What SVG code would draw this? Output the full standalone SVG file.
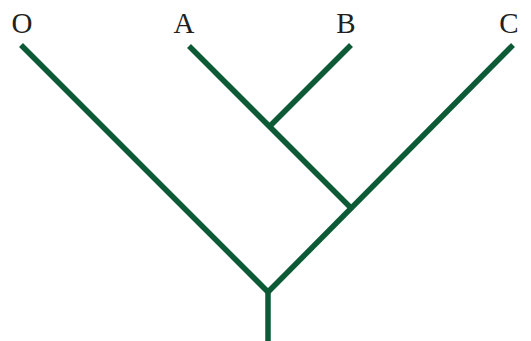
<svg xmlns="http://www.w3.org/2000/svg" width="531" height="341" viewBox="0 0 531 341">
<style>
.br{stroke:#0d5a37;stroke-width:5.5;fill:none;stroke-linecap:butt}
.lb{font-family:"Liberation Serif",serif;font-size:29px;fill:#231f20;text-anchor:middle}
</style>
<rect width="531" height="341" fill="#fff"/>
<g id="connectors">
<line class="br" x1="21" y1="45" x2="268" y2="292"/>
<line class="br" x1="513" y1="45" x2="268" y2="292"/>
<line class="br" x1="189" y1="46" x2="351.5" y2="208.5"/>
<line class="br" x1="351" y1="45" x2="270" y2="126"/>
<line class="br" x1="268" y1="290" x2="268" y2="341"/>
</g>
<g id="O"><text class="lb" x="22" y="33">O</text></g>
<g id="A"><text class="lb" x="184" y="33">A</text></g>
<g id="B"><text class="lb" x="346" y="33">B</text></g>
<g id="C"><text class="lb" x="509" y="33">C</text></g>
</svg>
